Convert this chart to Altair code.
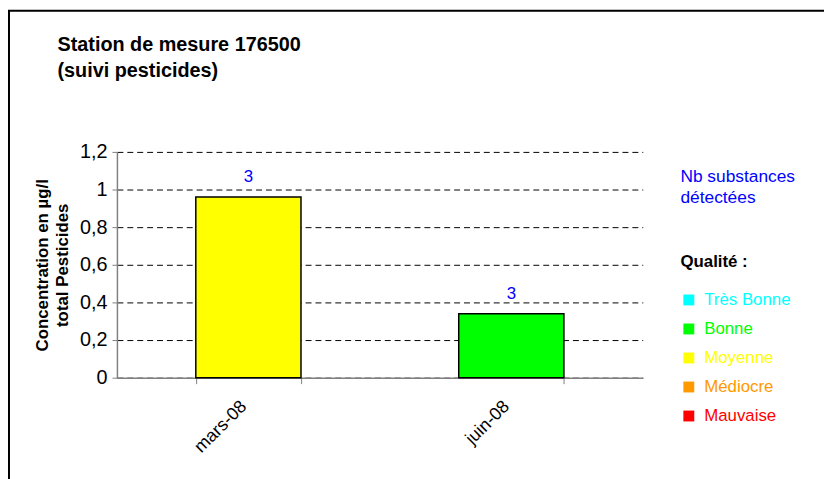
import altair as alt
import pandas as pd

# ---- data -------------------------------------------------------------
mois = ["mars-08", "juin-08"]
concentration = [0.96, 0.34]
nb_substances = [3, 3]
qualite = ["Moyenne", "Bonne"]

classes_qualite = ["Très Bonne", "Bonne", "Moyenne", "Médiocre", "Mauvaise"]
couleurs_qualite = ["#00ffff", "#00ff00", "#ffff00", "#ff9900", "#ff0000"]

serie_nb = "Nb substances détectées"
y_ticks = [0, 0.2, 0.4, 0.6, 0.8, 1.0, 1.2]

df = pd.DataFrame({
    "mois": mois,
    "concentration": concentration,
    "nb": nb_substances,
    "qualite": qualite,
    "serie": [serie_nb] * len(mois),
})

FONT = "Liberation Sans"
BLUE = "#0000ff"

label_color_expr = "[{}][indexof([{}], datum.label)]".format(
    ",".join("'%s'" % c for c in couleurs_qualite),
    ",".join("'%s'" % c for c in classes_qualite),
)

x_enc = alt.X(
    "mois:N",
    sort=mois,
    title=None,
    scale=alt.Scale(paddingInner=0.6, paddingOuter=0.3),
    axis=alt.Axis(
        labelAngle=315,
        labelAlign="right",
        labelBaseline="middle",
        labelFontSize=18,
        labelColor="#000000",
        labelPadding=20,
        labelOffset=-5,
        tickBand="extent",
        tickSize=6,
        tickColor="#808080",
        domainColor="#808080",
        domainWidth=1.5,
        grid=False,
    ),
)

y_axis = alt.Axis(
    values=y_ticks,
    tickCount=20,
    labelOverlap=False,
    labelExpr="replace(format(datum.value, '.1~f'), '.', ',')",
    labelFontSize=20,
    labelColor="#000000",
    labelPadding=5,
    tickSize=5,
    tickColor="#808080",
    domainColor="#808080",
    domainWidth=1.5,
    grid=True,
    gridColor="#000000",
    gridDash=[6, 4],
    gridWidth=1,
    titleFontSize=17,
    titleFontWeight="bold",
    titleColor="#000000",
    titleLineHeight=20,
    titlePadding=8,
)

def y_enc():
    return alt.Y(
        "concentration:Q",
        scale=alt.Scale(domain=[0, 1.2], nice=False),
        title=["Concentration en µg/l", "total Pesticides"],
        axis=y_axis,
    )

bars = alt.Chart(df).mark_bar(stroke="#000000", strokeWidth=1.5).encode(
    x=x_enc,
    y=y_enc(),
    color=alt.Color(
        "qualite:N",
        scale=alt.Scale(domain=classes_qualite, range=couleurs_qualite),
        legend=alt.Legend(
            title="\u00a0Qualité :",
            orient="none",
            legendX=569,
            legendY=103,
            padding=0,
            titleFontSize=17,
            titleFontWeight="bold",
            titleColor="#000000",
            titlePadding=21,
            symbolType="square",
            symbolSize=121,
            symbolStrokeWidth=0,
            labelFontSize=17,
            labelOffset=7,
            labelColor={"expr": label_color_expr},
            rowPadding=11.3,
        ),
    ),
)

labels = alt.Chart(df).mark_text(
    baseline="alphabetic", dy=-15, fontSize=17, font=FONT
).encode(
    x=alt.X("mois:N", sort=mois),
    y=y_enc(),
    text="nb:Q",
    color=alt.Color(
        "serie:N",
        scale=alt.Scale(domain=[serie_nb], range=[BLUE]),
        legend=alt.Legend(
            title=["Nb substances", "détectées"],
            orient="none",
            legendX=569,
            legendY=16,
            padding=0,
            titleFontSize=17.5,
            titleFontWeight="normal",
            titleColor=BLUE,
            titleLineHeight=22,
            symbolOpacity=0,
            labelExpr="''",
        ),
    ),
)

frame_df = pd.DataFrame({"k": [0]})
frame = alt.Chart(frame_df).mark_rect(
    fill="transparent", stroke="#000000", strokeWidth=2
).encode(
    x=alt.value(-109), x2=alt.value(760),
    y=alt.value(-142.5), y2=alt.value(400),
)

chart = (
    alt.layer(frame, bars, labels)
    .resolve_scale(color="independent")
    .properties(
        width=531,
        height=228,
        autosize=alt.AutoSizeParams(type="none"),
        padding={"left": 110, "top": 143, "right": 183, "bottom": 100},
        title=alt.TitleParams(
            text=["Station de mesure 176500", "(suivi pesticides)"],
            anchor="start",
            frame="group",
            orient="top",
            fontSize=20,
            fontWeight="bold",
            color="#000000",
            lineHeight=26,
            dx=-60,
            offset=0,
            dy=72,
        ),
    )
    .configure(font=FONT, background="#ffffff")
    .configure_view(strokeWidth=0)
)

chart.save("out.html", embed_options={"renderer": "svg", "actions": False})
